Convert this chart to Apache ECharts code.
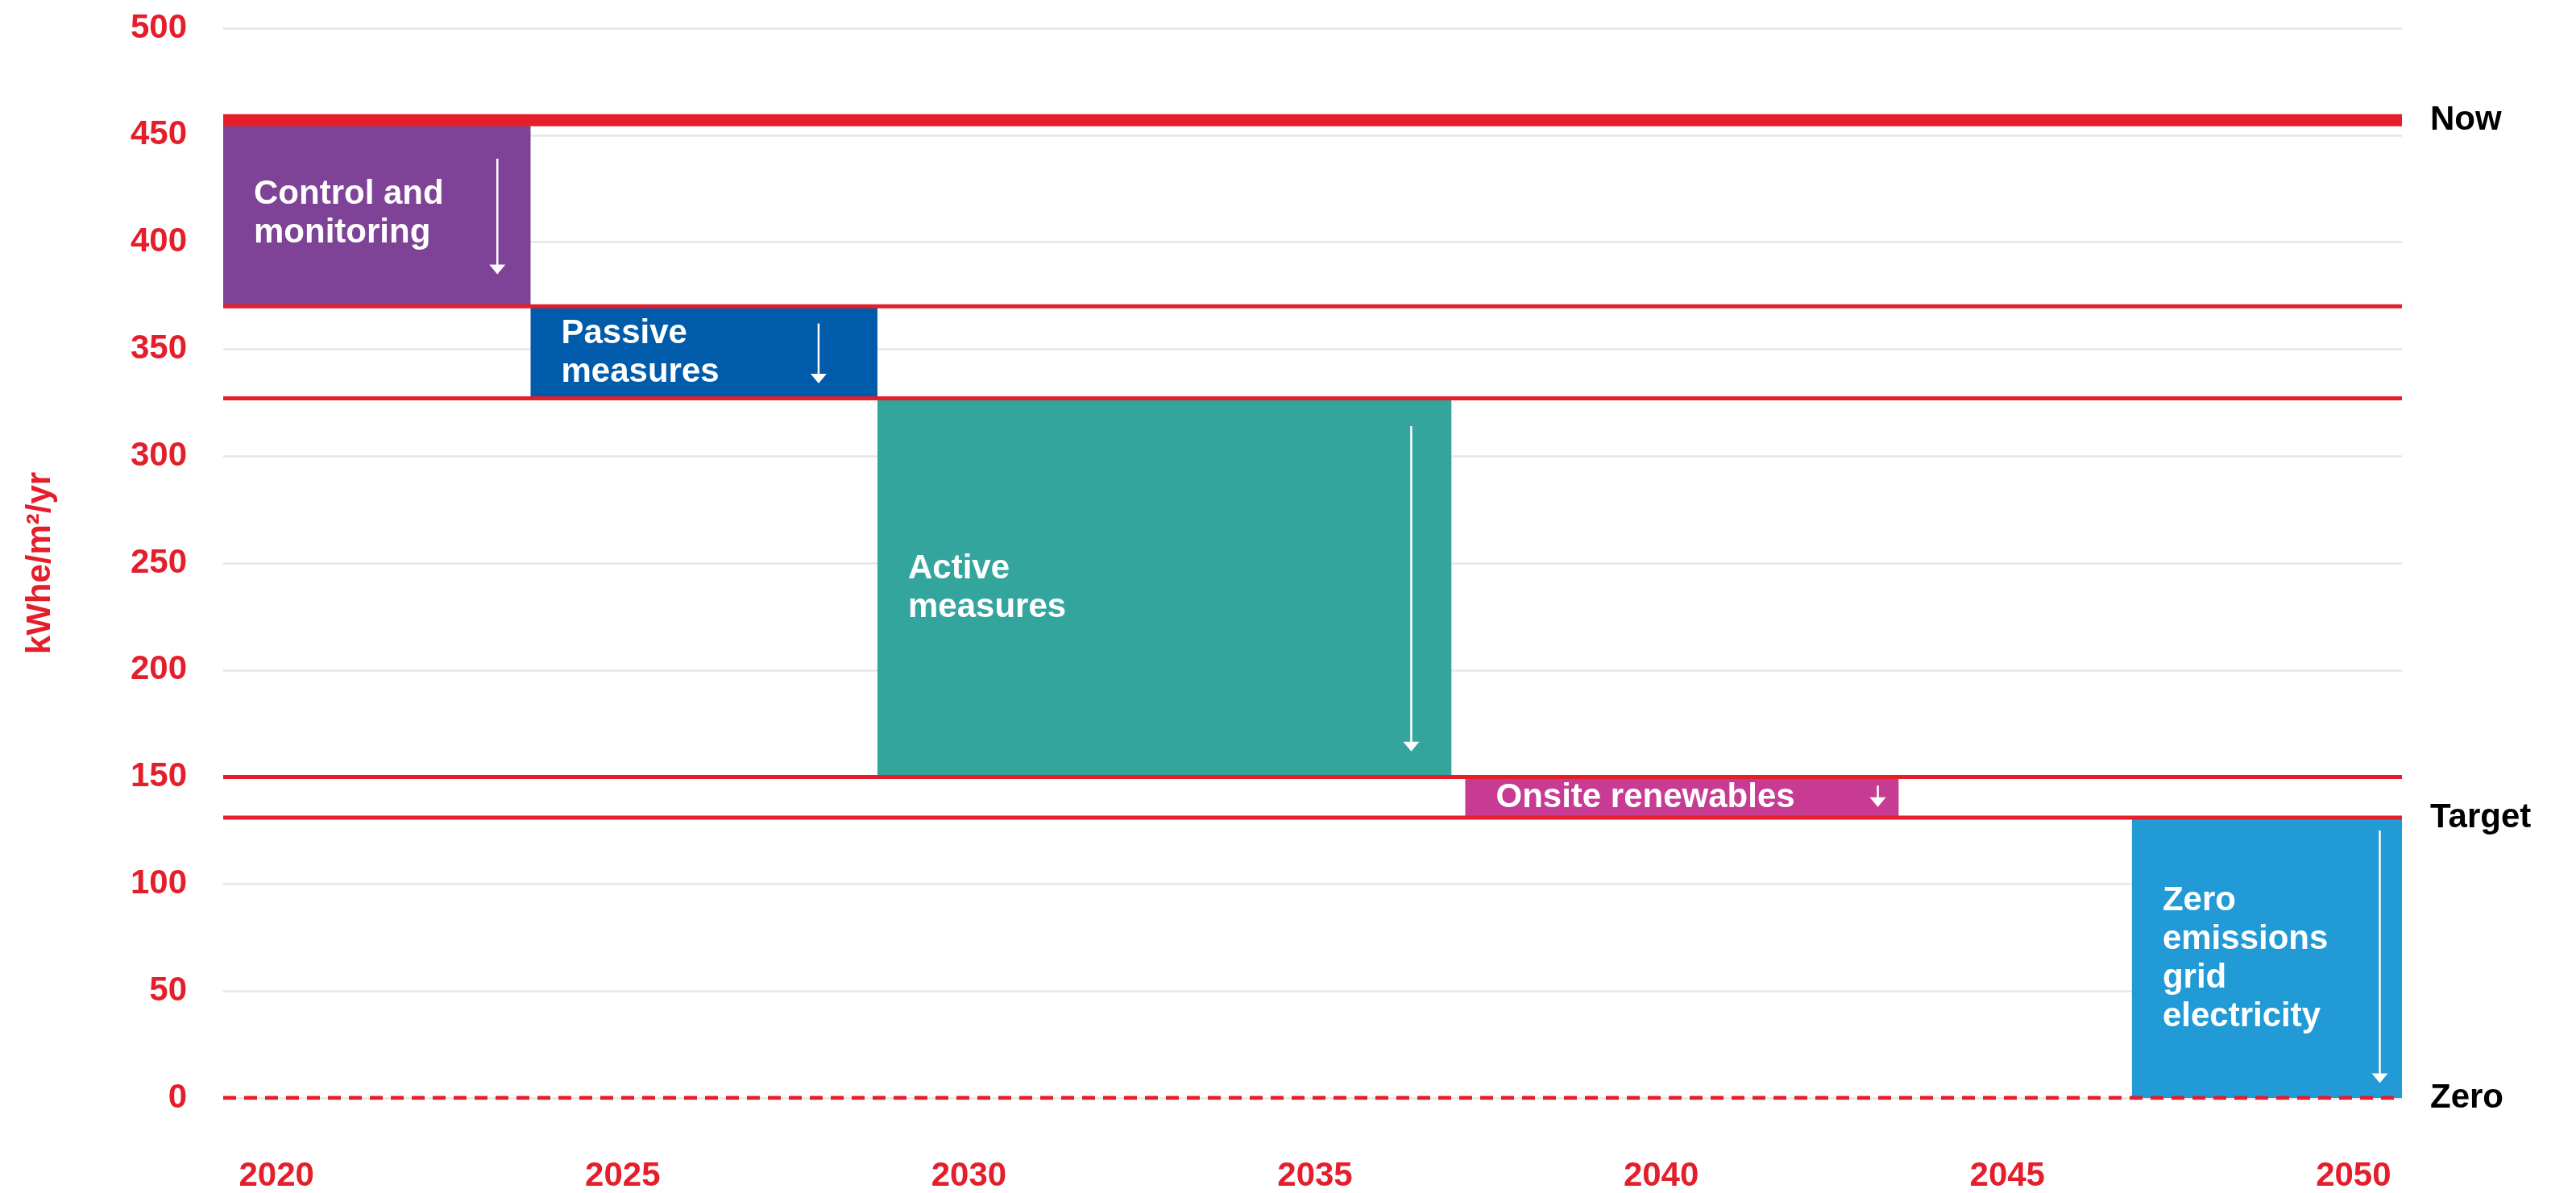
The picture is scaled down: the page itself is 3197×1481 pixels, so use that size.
<!DOCTYPE html>
<html>
<head>
<meta charset="utf-8">
<script src="https://cdn.jsdelivr.net/npm/echarts@6/dist/echarts.min.js"></script>
<style>
html, body { margin: 0; padding: 0; background: #fff; }
#main { width: 3197px; height: 1481px; }
</style>
</head>
<body>
<div id="main"></div>
<script>
// stages of the pathway (boxes)
var stageNames = ['Control and\nmonitoring', 'Passive\nmeasures', 'Active\nmeasures', 'Onsite renewables', 'Zero\nemissions\ngrid\nelectricity'];
var stageStart = [2019.23, 2023.67, 2028.68, 2037.17, 2046.8];
var stageEnd = [2023.67, 2028.68, 2036.97, 2043.43, 2050.7];
var stageFrom = [457, 370, 327, 150, 131];
var stageTo = [370, 327, 150, 131, 0];
var stageColors = ['#7E4396', '#005BAA', '#33A59D', '#C73B93', '#219AD6'];
// arrows inside the boxes
var arrowYear = [2023.19, 2027.83, 2036.39, 2043.13, 2050.38];
var arrowTop = [439, 362, 314, 146, 125];
var arrowBottom = [385, 334, 162, 136, 7];
// horizontal levels
var levelNames = ['Now', '', '', '', 'Target', 'Zero'];
var levelValues = [457, 370, 327, 150, 131, 0];
var levelWidths = [15, 5, 5, 5, 5, 5];
var yearTicks = [2020, 2025, 2030, 2035, 2040, 2045, 2050];

var xMin = 2019.23, xMax = 2050.7;
var RED = '#E41E2B';
var FONT = '"Liberation Sans", Arial, sans-serif';

var boxData = [];
for (var i = 0; i < stageNames.length; i++) {
    boxData.push([stageStart[i], stageEnd[i], stageFrom[i], stageTo[i], arrowYear[i], arrowTop[i], arrowBottom[i]]);
}

function renderBox(params, api) {
    var i = params.dataIndex;
    var p1 = api.coord([api.value(0), api.value(2)]);
    var p2 = api.coord([api.value(1), api.value(3)]);
    var a1 = api.coord([api.value(4), api.value(5)]);
    var a2 = api.coord([api.value(4), api.value(6)]);
    return {
        type: 'group',
        children: [
            { type: 'rect', shape: { x: p1[0], y: p1[1], width: p2[0] - p1[0], height: p2[1] - p1[1] },
              style: { fill: stageColors[i] } },
            { type: 'text', style: { text: stageNames[i], x: p1[0] + 38, y: (p1[1] + p2[1]) / 2 + 1,
              fill: '#fff', font: 'bold 42px ' + FONT, lineHeight: 48, align: 'left', verticalAlign: 'middle' } },
            { type: 'line', shape: { x1: a1[0], y1: a1[1], x2: a2[0], y2: a2[1] - 8 },
              style: { stroke: '#fff', lineWidth: 2.5 } },
            { type: 'polygon', shape: { points: [[a2[0] - 10, a2[1] - 12], [a2[0] + 10, a2[1] - 12], [a2[0], a2[1]]] },
              style: { fill: '#fff' } }
        ]
    };
}

var series = [{
    type: 'custom',
    renderItem: renderBox,
    data: boxData,
    z: 2,
    silent: true
}];

for (var j = 0; j < levelValues.length; j++) {
    series.push({
        type: 'line',
        name: levelNames[j],
        data: [[xMin, levelValues[j]], [xMax, levelValues[j]]],
        symbol: 'none',
        z: 3,
        silent: true,
        lineStyle: {
            color: RED,
            width: levelWidths[j],
            type: levelValues[j] === 0 ? [16, 10] : 'solid'
        },
        endLabel: {
            show: levelNames[j] !== '',
            formatter: function (p) { return p.seriesName; },
            distance: 35,
            color: '#000',
            fontWeight: 'bold',
            fontSize: 42,
            fontFamily: FONT
        }
    });
}

var chart = echarts.init(document.getElementById('main'));
chart.setOption({
    animation: false,
    backgroundColor: '#fff',
    grid: { left: 277, right: 216, top: 35, bottom: 115, containLabel: false },
    xAxis: {
        type: 'value',
        min: xMin,
        max: xMax,
        axisLine: { show: false },
        axisTick: { show: false },
        splitLine: { show: false },
        axisLabel: {
            customValues: yearTicks,
            formatter: function (v) { return String(v); },
            color: RED,
            fontWeight: 'bold',
            fontSize: 42,
            fontFamily: FONT,
            margin: 76
        }
    },
    yAxis: {
        type: 'value',
        min: 0,
        max: 500,
        interval: 50,
        name: 'kWhe/m²/yr',
        nameLocation: 'middle',
        nameGap: 206,
        nameTextStyle: { color: RED, fontWeight: 'bold', fontSize: 42, fontFamily: FONT },
        axisLine: { show: false },
        axisTick: { show: false },
        splitLine: { lineStyle: { color: '#E6E6E6', width: 2.5 } },
        axisLabel: { color: RED, fontWeight: 'bold', fontSize: 42, fontFamily: FONT, margin: 45 }
    },
    series: series
});
</script>
</body>
</html>
